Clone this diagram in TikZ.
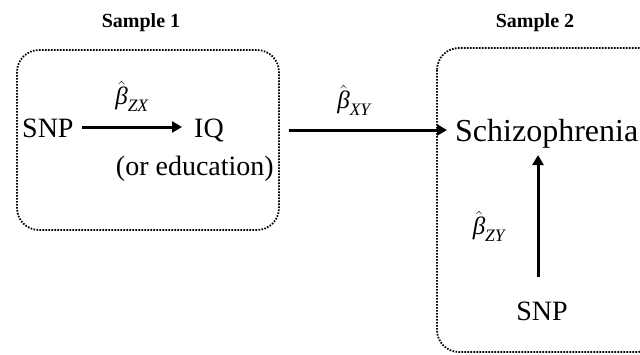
\documentclass[tikz,border=0pt]{standalone}
\usepackage{amsmath}
\usepackage{fontspec}
\setmainfont{Liberation Serif}
\usetikzlibrary{arrows.meta}
\newcommand{\bhat}[1]{$\hat{\text{\itshape β}}_{\text{\itshape #1}}$}
\begin{document}
\begin{tikzpicture}[x=1pt,y=-1pt,
  sbox/.style={line width=1.8pt,dash pattern=on 1.6pt off 1.4pt,rounded corners=22pt},
  lbl/.style={font=\fontsize{28}{30}\selectfont,inner sep=0pt},
  ttl/.style={font=\bfseries\fontsize{20}{22}\selectfont,inner sep=0pt},
  coef/.style={font=\fontsize{25}{27}\selectfont,inner sep=0pt},
  arr/.style={line width=3pt,-{Triangle[length=10pt,width=11pt]}}]
\useasboundingbox (0,0) rectangle (640,354);
\clip (0,0) rectangle (640,354);
\draw[sbox] (17,50) rectangle (279,230);
\draw[sbox] (437,48) rectangle (660,352);
\node[ttl] (s1) at (141,23) {Sample 1};
\node[ttl] (s2) at (535,23) {Sample 2};
\node[lbl,anchor=base west] (snp1) at (22,137) {SNP};
\node[lbl,anchor=base west] (iq) at (194,137) {IQ};
\node[lbl,anchor=base east] (edu) at (274,175) {(or education)};
\node[lbl,anchor=base west,font=\fontsize{32}{34}\selectfont] (sch) at (455,141) {Schizophrenia};
\node[lbl,anchor=base] (snp2) at (542,320) {SNP};
\coordinate (a1) at (82,127);
\coordinate (a2) at (182,127);
\coordinate (xyst) at (289,130);
\coordinate (xyen) at (447,130);
\coordinate (zyst) at (538,277);
\coordinate (zyen) at (538,155);
\draw[arr] (a1) -- (a2);
\draw[arr] (xyst) -- (xyen);
\draw[arr] (zyst) -- (zyen);
\node[coef] (bzx) at (132,96) {\bhat{ZX}};
\node[coef] (bxy) at (354,100) {\bhat{XY}};
\node[coef] (bzy) at (489,226) {\bhat{ZY}};
\end{tikzpicture}
\end{document}
